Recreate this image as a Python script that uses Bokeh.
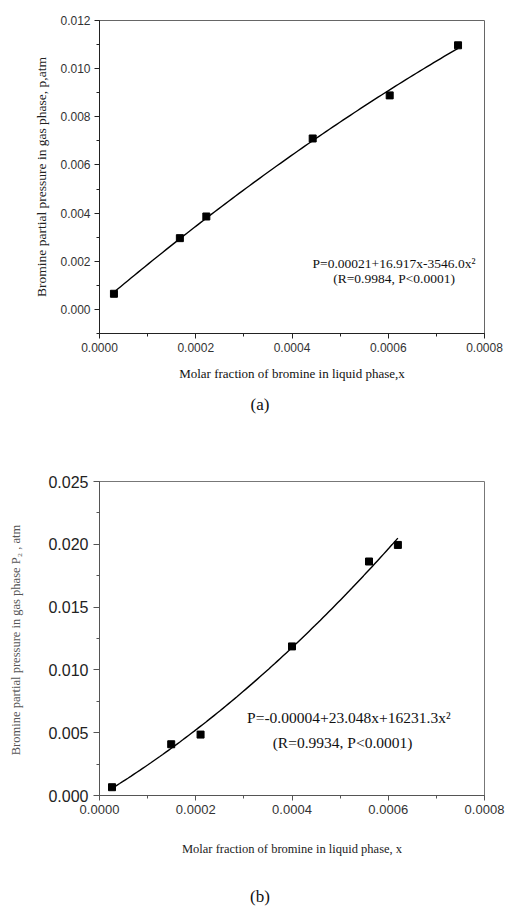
from bokeh.plotting import figure
from bokeh.layouts import column
from bokeh.models import SingleIntervalTicker, NumeralTickFormatter, Range1d, Div
from bokeh.core.properties import value
from bokeh.embed import file_html
from bokeh.resources import INLINE
import numpy as np

# ---- data (a)
xa = [0.00003, 0.000167, 0.000222, 0.000443, 0.000603, 0.000745]
ya = [0.00065, 0.00296, 0.00386, 0.00710, 0.00889, 0.01097]
coef_a = [0.00021, 16.917, -3546.0]
fit_a_span = [0.00003, 0.000745]
eq_a = ["P=0.00021+16.917x-3546.0x²", "(R=0.9984, P<0.0001)"]
eq_a_x = [0.000612, 0.000612]
eq_a_y = [0.0019, 0.00127]

# ---- data (b)
xb = [0.000026, 0.000149, 0.00021, 0.0004, 0.00056, 0.00062]
yb = [0.00066, 0.00408, 0.00485, 0.01187, 0.01863, 0.01995]
coef_b = [-0.00004, 23.048, 16231.3]
fit_b_span = [0.00003, 0.00062]
eq_b = ["P=-0.00004+23.048x+16231.3x²", "(R=0.9934, P<0.0001)"]
eq_b_x = [0.000518, 0.000505]
eq_b_y = [0.00622, 0.00424]

SERIF = "Liberation Serif"
SANS = "Liberation Sans"


def fit_curve(coef, span):
    xs = np.linspace(span[0], span[1], 100)
    ys = coef[0] + coef[1] * xs + coef[2] * xs ** 2
    return xs, ys


def style_axes(p, xfmt, yfmt, xint, yint, ytick_size, xtick_size, ycolor, axcolor):
    p.xaxis.ticker = SingleIntervalTicker(interval=xint, num_minor_ticks=2)
    p.yaxis.ticker = SingleIntervalTicker(interval=yint, num_minor_ticks=2)
    p.xaxis.formatter = NumeralTickFormatter(format=xfmt)
    p.yaxis.formatter = NumeralTickFormatter(format=yfmt)
    for ax in (p.xaxis, p.yaxis):
        ax.major_tick_in = 0
        ax.major_tick_out = 5
        ax.minor_tick_in = 0
        ax.minor_tick_out = 3
        ax.axis_line_color = axcolor
        ax.major_tick_line_color = axcolor
        ax.minor_tick_line_color = axcolor
        ax.major_label_text_font = SANS
        ax.axis_label_text_font = SERIF
        ax.axis_label_text_font_style = "normal"
        ax.major_label_standoff = 4
    p.yaxis.major_label_text_font_size = ytick_size
    p.xaxis.major_label_text_font_size = xtick_size
    p.yaxis.major_label_text_color = ycolor
    p.xaxis.major_label_text_color = "#333333"
    p.xgrid.visible = False
    p.ygrid.visible = False
    p.outline_line_color = "#666666"
    p.outline_line_width = 1


def caption(text, height, pad_top):
    return Div(text=text, width=520, height=height, margin=(0, 0, 0, 0),
               styles={"font-family": SERIF, "font-size": "17px",
                       "line-height": "20px", "text-align": "center",
                       "color": "#111111", "padding-top": f"{pad_top}px",
                       "width": "520px", "box-sizing": "border-box"})


# ---------------- figure (a)
pa = figure(width=520, height=395, output_backend="svg", toolbar_location=None,
            x_range=Range1d(0, 0.0008), y_range=Range1d(-0.001, 0.012),
            min_border_left=99, min_border_right=36, min_border_top=20,
            min_border_bottom=62)
style_axes(pa, "0.0000", "0.000", 0.0002, 0.002, "12px", "12px", "#333333", "#222222")
pa.xaxis.axis_label = "Molar fraction of bromine in liquid phase,x"
pa.yaxis.axis_label = "Bromine partial pressure in gas phase, p,atm"
pa.xaxis.axis_label_text_font_size = "13px"
pa.yaxis.axis_label_text_font_size = "13.5px"
pa.xaxis.axis_label_standoff = 11
pa.yaxis.axis_label_standoff = 8
pa.xaxis.axis_label_text_color = "#111111"
pa.yaxis.axis_label_text_color = "#222222"

fx, fy = fit_curve(coef_a, fit_a_span)
pa.line(fx, fy, line_color="black", line_width=1.4)
pa.scatter(xa, ya, marker="square", size=7, color="black")
pa.text(x=eq_a_x, y=eq_a_y, text=eq_a,
        text_font=value(SERIF), text_font_size="13.5px", text_align="center",
        text_baseline="middle", text_color="#111111")

cap_a = caption("(a)", 30, 0)

# ---------------- figure (b)
pb = figure(width=520, height=440, output_backend="svg", toolbar_location=None,
            x_range=Range1d(0, 0.0008), y_range=Range1d(0, 0.025),
            min_border_left=88, min_border_right=23, min_border_top=56,
            min_border_bottom=70)
style_axes(pb, "0.0000", "0.000", 0.0002, 0.005, "16px", "13px", "#222222", "#555555")
pb.yaxis.major_tick_out = 6
pb.yaxis.major_label_standoff = 5
pb.xaxis.axis_label = "Molar fraction of bromine in liquid phase, x"
pb.yaxis.axis_label = "Bromine partial pressure in gas phase  P₂ , atm"
pb.xaxis.axis_label_text_font_size = "12.5px"
pb.yaxis.axis_label_text_font_size = "12.5px"
pb.xaxis.axis_label_standoff = 25
pb.yaxis.axis_label_standoff = 22
pb.xaxis.axis_label_text_color = "#222222"
pb.yaxis.axis_label_text_color = "#555555"
pb.outline_line_color = "#777777"

fx, fy = fit_curve(coef_b, fit_b_span)
pb.line(fx, fy, line_color="black", line_width=1.4)
pb.scatter(xb, yb, marker="square", size=7, color="black")
pb.text(x=eq_b_x, y=eq_b_y, text=eq_b,
        text_font=value(SERIF), text_font_size="15.5px", text_align="center",
        text_baseline="middle", text_color="#111111")

cap_b = caption("(b)", 48, 22)

layout = column(pa, cap_a, pb, cap_b, spacing=0)
open("out.html", "w").write(file_html(layout, INLINE))
